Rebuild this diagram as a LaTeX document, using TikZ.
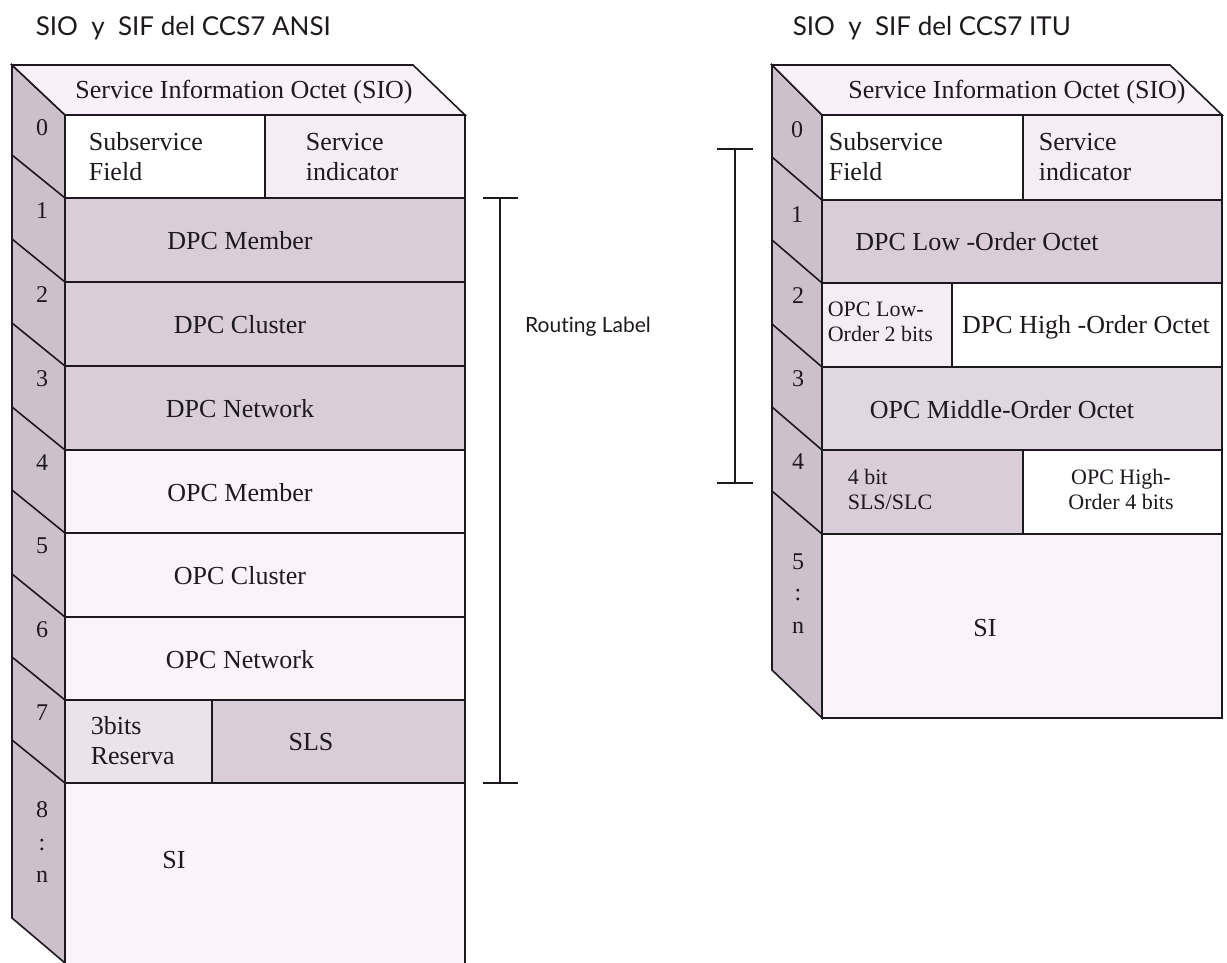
\documentclass[tikz,border=0pt]{standalone}
\usepackage{fontspec}
\setmainfont{Liberation Serif}
\newfontfamily\ttlfont[Ligatures=NoCommon]{Lato}
\definecolor{darkc}{RGB}{217,205,217}
\definecolor{sidec}{RGB}{204,192,204}
\definecolor{lightc}{RGB}{250,244,249}
\definecolor{light2}{RGB}{245,236,244}
\definecolor{midc}{RGB}{236,226,234}
\definecolor{topc}{RGB}{248,241,247}
\definecolor{inkc}{RGB}{30,25,30}
\begin{document}
\begin{tikzpicture}[x=1pt,y=-1pt,line width=1.6pt,draw=inkc,
  lbl/.style={inner sep=0pt,text=inkc,font=\fontsize{26}{30}\selectfont},
  slbl/.style={inner sep=0pt,text=inkc,font=\fontsize{22}{25}\selectfont},
  dig/.style={inner sep=0pt,text=inkc,font=\fontsize{24}{26}\selectfont},
  ttl/.style={inner sep=0pt,text=inkc,font=\ttlfont\fontsize{26}{30}\selectfont,anchor=west},
  brk/.style={line width=1.4pt,draw=inkc}]
\useasboundingbox (0,0) rectangle (1227,963);

% ================= ANSI =================
\node[ttl] (tA) at (35,28) {SIO\ \ y\ \ SIF del CCS7 ANSI};
% side band
\filldraw[fill=sidec] (12,65) -- (65,115) -- (65,963) -- (12,918) -- cycle;
% top face
\filldraw[fill=topc] (12,65) -- (413,65) -- (465,115) -- (65,115) -- cycle;
% rows
\filldraw[fill=white] (65,115) rectangle (265,198);
\filldraw[fill=light2] (265,115) rectangle (465,198);
\filldraw[fill=darkc] (65,198) rectangle (465,282);
\filldraw[fill=darkc] (65,282) rectangle (465,366);
\filldraw[fill=darkc] (65,366) rectangle (465,450);
\filldraw[fill=lightc] (65,450) rectangle (465,533);
\filldraw[fill=lightc] (65,533) rectangle (465,617);
\filldraw[fill=lightc] (65,617) rectangle (465,700);
\filldraw[fill=midc] (65,700) rectangle (212,783);
\filldraw[fill=darkc] (212,700) rectangle (465,783);
\fill[lightc] (65,783) rectangle (465,963);
\draw (65,963) -- (65,783) -- (465,783) -- (465,963);
% side diagonals
\foreach \y in {198,282,366,450,533,617,700,783} {\draw (12,\y-43) -- (65,\y);}
% digits
\node[dig] (a0) at (42,128) {0};
\node[dig] (a1) at (42,211) {1};
\node[dig] (a2) at (42,295) {2};
\node[dig] (a3) at (42,379) {3};
\node[dig] (a4) at (42,463) {4};
\node[dig] (a5) at (42,546) {5};
\node[dig] (a6) at (42,630) {6};
\node[dig] (a7) at (42,713) {7};
\node[dig] (a8) at (42,810) {8};
\node[dig] (acol) at (42,845) {:};
\node[dig] (an) at (42,877) {n};
% texts
\node[lbl] (aSIO) at (244,92) {Service Information Octet (SIO)};
\node[lbl,anchor=west,align=left] (aSub) at (88,157) {Subservice\\Field};
\node[lbl,anchor=west,align=left] (aSrv) at (305,157) {Service\\indicator};
\node[lbl] (aDM) at (240,241) {DPC Member};
\node[lbl] (aDC) at (240,325) {DPC Cluster};
\node[lbl] (aDN) at (240,409) {DPC Network};
\node[lbl] (aOM) at (240,493) {OPC Member};
\node[lbl] (aOC) at (240,576) {OPC Cluster};
\node[lbl] (aON) at (240,660) {OPC Network};
\node[lbl,anchor=west,align=left] (aRes) at (90,741) {3bits\\Reserva};
\node[lbl] (aSLS) at (311,742) {SLS};
\node[lbl] (aSI) at (174,860) {SI};

% Routing label bracket
\coordinate (rT) at (500,198);
\coordinate (rB) at (500,783);
\draw[brk] (rT) -- (rB);
\draw[brk] ([xshift=-17pt]rT) -- ([xshift=18pt]rT);
\draw[brk] ([xshift=-17pt]rB) -- ([xshift=18pt]rB);
\node[inner sep=0pt,text=inkc,font=\ttlfont\fontsize{21}{26}\selectfont] (rl) at (588,327) {Routing Label};

% ================= ITU =================
\node[ttl] (tB) at (792,28) {SIO\ \ y\ \ SIF del CCS7 ITU};
\filldraw[fill=sidec] (772,65) -- (822,115) -- (822,718) -- (772,670) -- cycle;
\filldraw[fill=topc] (772,65) -- (1170,65) -- (1222,115) -- (822,115) -- cycle;
\filldraw[fill=white] (822,115) rectangle (1023,200);
\filldraw[fill=light2] (1023,115) rectangle (1222,200);
\filldraw[fill=darkc] (822,200) rectangle (1222,283);
\filldraw[fill=light2] (822,283) rectangle (952,367);
\filldraw[fill=white] (952,283) rectangle (1222,367);
\filldraw[fill=darkc!75!lightc] (822,367) rectangle (1222,450);
\filldraw[fill=darkc] (822,450) rectangle (1023,534);
\filldraw[fill=white] (1023,450) rectangle (1222,534);
\filldraw[fill=lightc] (822,534) rectangle (1222,718);
\foreach \y in {200,283,367,450,534} {\draw (772,\y-43) -- (822,\y);}
\node[dig] (b0) at (797,130) {0};
\node[dig] (b1) at (797,215) {1};
\node[dig] (b2) at (798,296) {2};
\node[dig] (b3) at (798,379) {3};
\node[dig] (b4) at (798,462) {4};
\node[dig] (b5) at (798,562) {5};
\node[dig] (bcol) at (798,595) {:};
\node[dig] (bn) at (798,628) {n};
\node[lbl] (bSIO) at (1017,92) {Service Information Octet (SIO)};
\node[lbl,anchor=west,align=left] (bSub) at (828,157) {Subservice\\Field};
\node[lbl,anchor=west,align=left] (bSrv) at (1038,157) {Service\\indicator};
\node[lbl] (bDL) at (977,242) {DPC Low -Order Octet};
\node[slbl,anchor=west,align=left] (bOL) at (827,322) {OPC Low-\\Order 2 bits};
\node[lbl] (bDH) at (1086,327) {DPC High -Order Octet};
\node[lbl] (bOM) at (1002,410) {OPC Middle-Order Octet};
\node[slbl,anchor=west,align=left] (bSLS) at (847,489) {4 bit\\SLS/SLC};
\node[slbl,align=center] (bOH) at (1121,489) {OPC High-\\Order 4 bits};
\node[lbl] (bSI) at (985,628) {SI};

% ITU bracket
\coordinate (sT) at (735,149);
\coordinate (sB) at (735,483);
\draw[brk] (sT) -- (sB);
\draw[brk] ([xshift=-18pt]sT) -- ([xshift=18pt]sT);
\draw[brk] ([xshift=-18pt]sB) -- ([xshift=18pt]sB);
\end{tikzpicture}
\end{document}
